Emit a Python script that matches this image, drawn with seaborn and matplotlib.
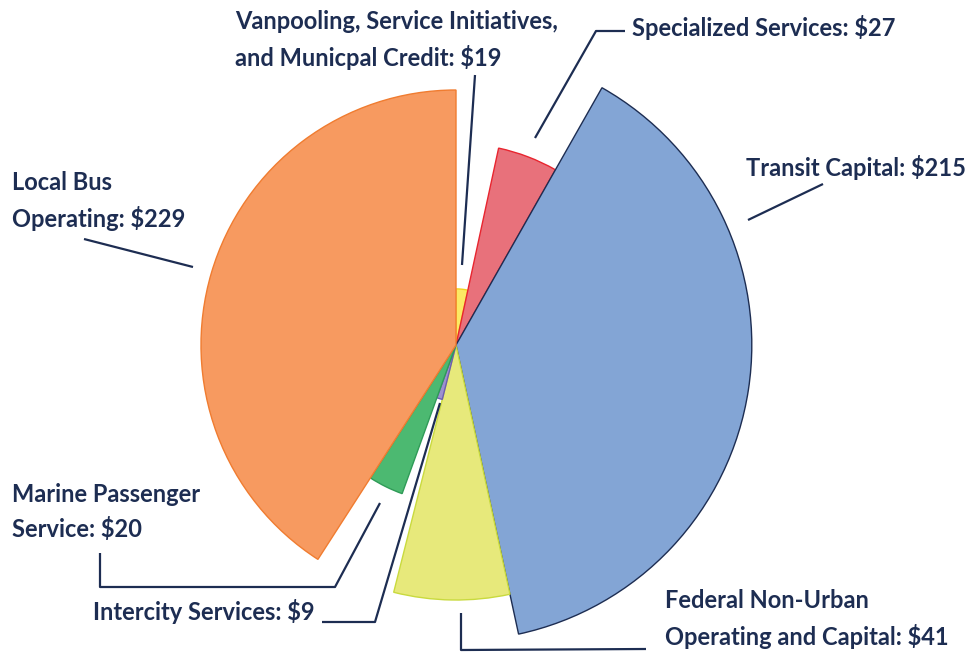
import matplotlib.pyplot as plt
import seaborn as sns
from matplotlib.patches import Wedge

sns.set_theme(style="white")
plt.rcParams["font.family"] = ["Lato", "DejaVu Sans"]

# data (millions of dollars), in clockwise order from 12 o'clock
categories = [
    "Vanpooling, Service Initiatives,\nand Municpal Credit",
    "Specialized Services",
    "Transit Capital",
    "Federal Non-Urban\nOperating and Capital",
    "Intercity Services",
    "Marine Passenger\nService",
    "Local Bus\nOperating",
]
amounts = [19, 27, 215, 41, 9, 20, 229]
# relative radius of each slice (Local Bus = 1)
rel_radius = [0.22, 0.79, 1.16, 1.0, 0.22, 0.62, 1.0]

fills = ["#fce964", "#e8717b", "#83a5d5", "#e7e97b", "#9d90d0", "#4cb971", "#f79a60"]
edges = ["#f3d21e", "#e8252f", "#1d2d52", "#c9da3e", "#6d5fb0", "#2f9b57", "#f07c30"]
navy = "#1d2d52"

W, H = 978, 656
cx, cy, scale = 456, 345, 255

fig = plt.figure(figsize=(W / 100, H / 100), dpi=100)
ax = fig.add_axes([0, 0, 1, 1])
ax.set_xlim(0, W)
ax.set_ylim(H, 0)
ax.set_aspect("equal")
ax.axis("off")

total = sum(amounts)
start = 0.0
for amt, rr, fc, ec in zip(amounts, rel_radius, fills, edges):
    sweep = 360.0 * amt / total
    # y axis is inverted, so data angle -90 is 12 o'clock and angles run clockwise
    ax.add_patch(Wedge((cx, cy), rr * scale, -90 + start, -90 + start + sweep,
                       facecolor=fc, edgecolor=ec, linewidth=1.0))
    start += sweep

labels = [f"{c}: ${a}" for c, a in zip(categories, amounts)]

# label placement (pixel positions of the text blocks)
label_pos = [(235, 40), (632, 28), (746, 167), (665, 619), (93, 612), (12, 512), (12, 201)]
for lab, (x, y) in zip(labels, label_pos):
    ax.text(x, y, lab, ha="left", va="center", fontsize=17, fontweight="bold",
            color=navy, linespacing=1.55)

# leader lines
leaders = [
    [(475, 75), (462, 265)],
    [(625, 31), (596, 31), (535, 138)],
    [(823, 184), (748, 220)],
    [(461, 613), (461, 650), (646, 649)],
    [(322, 622), (375, 622), (440, 403)],
    [(100, 553), (100, 587), (335, 587), (380, 503)],
    [(84, 239), (193, 267)],
]
for pts in leaders:
    xs, ys = zip(*pts)
    ax.plot(xs, ys, color=navy, linewidth=1.6, solid_capstyle="butt")

fig.savefig("out.png", dpi=100, facecolor="white")
